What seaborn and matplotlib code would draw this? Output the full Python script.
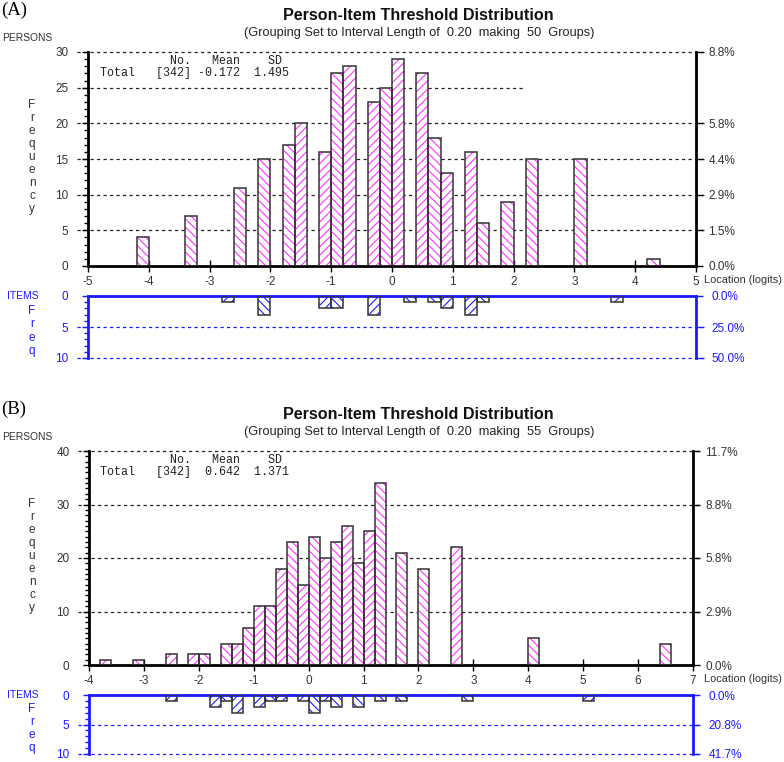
import numpy as np
import pandas as pd
import matplotlib
matplotlib.use("Agg")
import matplotlib.pyplot as plt
import seaborn as sns

# bin left edges (width 0.2) and counts
a_person_left = [-4.2, -3.4, -2.6, -2.2, -1.8, -1.6, -1.2, -1.0, -0.8, -0.4, -0.2,
                 0.0, 0.4, 0.6, 0.8, 1.2, 1.4, 1.8, 2.2, 3.0, 4.2]
a_person_count = [4, 7, 11, 15, 17, 20, 16, 27, 28, 23, 25, 29, 27, 18, 13, 16, 6, 9, 15, 15, 1]
a_item_left = [-2.8, -2.2, -1.2, -1.0, -0.4, 0.2, 0.6, 0.8, 1.2, 1.4, 3.6]
a_item_count = [1, 3, 2, 2, 3, 1, 1, 2, 3, 1, 1]

b_person_left = [-3.8, -3.2, -2.6, -2.2, -2.0, -1.6, -1.4, -1.2, -1.0, -0.8, -0.6, -0.4,
                 -0.2, 0.0, 0.2, 0.4, 0.6, 0.8, 1.0, 1.2, 1.6, 2.0, 2.6, 4.0, 6.4]
b_person_count = [1, 1, 2, 2, 2, 4, 4, 7, 11, 11, 18, 23, 15, 24, 20, 23, 26, 19, 25, 34,
                  21, 18, 22, 5, 4]
b_item_left = [-2.6, -1.8, -1.6, -1.4, -1.0, -0.8, -0.6, -0.2, 0.0, 0.2, 0.4, 0.8, 1.2,
               1.6, 2.8, 5.0]
b_item_count = [1, 2, 1, 3, 2, 1, 1, 1, 3, 1, 2, 2, 1, 1, 1, 1]

a_stats = ("-0.172", "1.495")
b_stats = ("0.642", "1.371")
a_groups, b_groups = 50, 55
n_persons = 342
a_items, b_items = 20, 24

PINK = "#ff33ff"
BLUE = "#1a1aff"
EDGE = "#333333"
TXT = "#333333"

plt.rcParams["font.family"] = ["Liberation Sans", "DejaVu Sans"]
plt.rcParams["hatch.linewidth"] = 0.8
plt.rcParams["axes.unicode_minus"] = False

W, H = 784, 762
fig = plt.figure(figsize=(W / 100, H / 100), dpi=100)


def box(x0, y0, x1, y1):
    return [x0 / W, 1 - y1 / H, (x1 - x0) / W, (y1 - y0) / H]


def ftext(x, y, s, **kw):
    fig.text(x / W, 1 - y / H, s, **kw)


def draw_hist(ax, lefts, counts, lo, hi, hcol):
    df = pd.DataFrame({"loc": np.array(lefts) + 0.1, "n": counts})
    n0 = len(ax.patches)
    sns.histplot(data=df, x="loc", weights="n", binwidth=0.2, binrange=(lo, hi), ax=ax,
                 color="white", alpha=1, linewidth=0, zorder=2)
    for p in ax.patches[n0:]:
        if p.get_height() == 0:
            p.set_visible(False)
            continue
        i = int(round((p.get_x() - lo) / 0.2))
        p.set_facecolor("white")
        p.set_edgecolor(hcol)
        p.set_linewidth(0)
        p.set_hatch("\\\\\\\\" if i % 2 == 0 else "////")
    n1 = len(ax.patches)
    sns.histplot(data=df, x="loc", weights="n", binwidth=0.2, binrange=(lo, hi), ax=ax,
                 fill=False, linewidth=1.1, zorder=3)
    for p in ax.patches[n1:]:
        if p.get_height() == 0:
            p.set_visible(False)
            continue
        p.set_facecolor("none")
        p.set_edgecolor(EDGE)
        p.set_linewidth(1.1)
    ax.set_xlabel("")
    ax.set_ylabel("")


def dash(ax, y, col, xmax=1.013):
    ax.axhline(y, xmin=-0.018, xmax=xmax, color=col, lw=0.9,
               ls=(0, (2.6, 2.6)), clip_on=False, zorder=1)


def panel(top, lefts, counts, ilefts, icounts, lo, hi, ymax, yticks, rticks,
          grid, partial, stats, groups, n_items, tag, px0, px1, it_h):
    # titles
    ftext(1, top + 10, tag, family="Liberation Serif", fontsize=13.5, va="center")
    ftext(418, top + 16, "Person-Item Threshold Distribution", fontsize=11.6,
          weight="bold", ha="center", va="center", color="#111111")
    ftext(419, top + 33, "(Grouping Set to Interval Length of  0.20  making  %d  Groups)" % groups,
          fontsize=9.2, ha="center", va="center", color="#222222")
    ftext(2, top + 38, "PERSONS", fontsize=7.4, va="center", color=TXT)

    ax_top = top + 52
    ax_bot = ax_top + 214
    ax = fig.add_axes(box(px0, ax_top, px1, ax_bot))
    draw_hist(ax, lefts, counts, lo, hi, PINK)
    ax.set_xlim(lo, hi)
    ax.set_ylim(0, ymax)
    for s in ["left", "right", "bottom"]:
        ax.spines[s].set_linewidth(2)
        ax.spines[s].set_color("black")
    ax.spines["top"].set_visible(False)
    ax.set_yticks(yticks)
    ax.set_yticks(np.arange(0, ymax + 1, 1), minor=True)
    ax.tick_params(axis="y", which="major", length=4, width=1, labelsize=8.5,
                   labelcolor=TXT, pad=10)
    ax.tick_params(axis="y", which="minor", length=3, width=1)
    ax.set_xticks(range(int(lo), int(hi) + 1))
    ax.tick_params(axis="x", direction="inout", length=9, width=1, labelsize=8.5,
                   labelcolor=TXT, pad=3)
    for g in grid:
        dash(ax, g, "#222222")
    if partial is not None:
        dash(ax, partial[0], "#222222", xmax=partial[1])

    ax2 = ax.twinx()
    ax2.set_ylim(0, ymax)
    ax2.set_yticks(rticks)
    ax2.set_yticklabels(["%.1f%%" % (v / n_persons * 100) for v in rticks])
    ax2.tick_params(axis="y", length=5, width=1, labelsize=8.5, labelcolor=TXT, pad=4)
    for s in ax2.spines.values():
        s.set_visible(False)

    ftext(704, ax_bot + 14, "Location (logits)", fontsize=7.9, va="center", color=TXT)
    ftext(32, (ax_top + ax_bot) / 2 - 2, "F\nr\ne\nq\nu\ne\nn\nc\ny", fontsize=8.5,
          ha="center", va="center", multialignment="center", linespacing=1.12, color=TXT)

    # stats box
    ftext(100, ax_top + 9, "          No.   Mean    SD", family="Liberation Mono",
          fontsize=8.4, va="center", color="#222222")
    ftext(100, ax_top + 21, "Total   [342] %6s  %s" % stats, family="Liberation Mono",
          fontsize=8.4, va="center", color="#222222")

    # items panel
    it_top = ax_bot + 30
    it_bot = it_top + it_h
    axi = fig.add_axes(box(px0, it_top, px1, it_bot))
    draw_hist(axi, ilefts, icounts, lo, hi, BLUE)
    axi.set_xlim(lo, hi)
    axi.set_ylim(10, 0)
    for s in ["left", "right", "top"]:
        axi.spines[s].set_linewidth(2)
        axi.spines[s].set_color(BLUE)
    axi.spines["bottom"].set_visible(False)
    axi.set_xticks([])
    axi.set_yticks([0, 5, 10])
    axi.set_yticks(np.arange(0, 11, 1), minor=True)
    axi.tick_params(axis="y", which="major", length=4, width=1, color=BLUE,
                    labelsize=8.5, labelcolor=BLUE, pad=10)
    axi.tick_params(axis="y", which="minor", length=3, width=1, color=BLUE)
    dash(axi, 5, BLUE)
    dash(axi, 10, BLUE)
    axi2 = axi.twinx()
    axi2.set_ylim(10, 0)
    axi2.set_yticks([0, 5, 10])
    axi2.set_yticklabels(["%.1f%%" % (v / n_items * 100) for v in [0, 5, 10]])
    axi2.tick_params(axis="y", length=5, width=1, color=BLUE, labelsize=8.5,
                     labelcolor=BLUE, pad=6)
    for s in axi2.spines.values():
        s.set_visible(False)

    ftext(7, it_top, "ITEMS", fontsize=7.5, va="center", color=BLUE)
    ftext(32, (it_top + it_bot) / 2 + 4, "F\nr\ne\nq", fontsize=8.5, ha="center",
          va="center", multialignment="center", linespacing=1.12, color=BLUE)


panel(0, a_person_left, a_person_count, a_item_left, a_item_count, -5, 5, 30,
      [0, 5, 10, 15, 20, 25, 30], [0, 5, 10, 15, 20, 30], [5, 10, 15, 20, 30],
      (25, 0.719), a_stats, a_groups, a_items, "(A)", 88, 696, 62)
panel(399, b_person_left, b_person_count, b_item_left, b_item_count, -4, 7, 40,
      [0, 10, 20, 30, 40], [0, 10, 20, 30, 40], [10, 20, 30, 40],
      None, b_stats, b_groups, b_items, "(B)", 89, 693, 59)

fig.savefig("out.png", dpi=100)
